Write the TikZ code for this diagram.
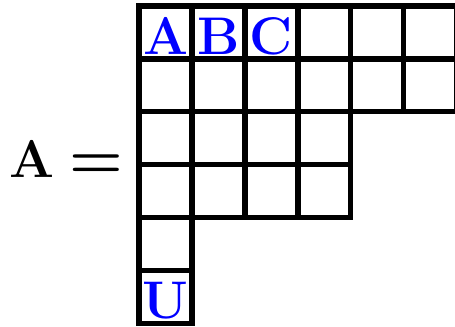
\documentclass[tikz,border=0pt]{standalone}
\usepackage{amsmath,amssymb,bm}
\usepackage{xcolor}
\usetikzlibrary{positioning}
\tikzset{
  box/.style={draw,line width=2.9pt,minimum size=1cm,inner sep=0pt,outer sep=0pt},
  tag/.style={font=\fontsize{28.5}{30}\selectfont\bfseries,text=blue,inner sep=0pt,anchor=base},
  lhs/.style={font=\fontsize{28.5}{30}\selectfont\bfseries,inner sep=0pt,anchor=base west},
  rel/.style={font=\fontsize{33}{34}\selectfont\bfseries,inner sep=0pt,anchor=base}
}
\begin{document}
\begin{tikzpicture}
  \useasboundingbox (-2.63,-.05) rectangle (5.97,6.113);
  % Young diagram: rows of 6, 6, 4, 4, 1, 1 boxes
  \foreach \r/\n in {1/6,2/6,3/4,4/4,5/1,6/1}
    \foreach \c in {1,...,\n}
      \node[box] (b\r\c) at (\c-.5,6.5-\r) {};
  \node[tag] (tA) at (.5,5.09) {A};
  \node[tag] (tB) at (1.5,5.09) {B};
  \node[tag] (tC) at (2.5,5.09) {C};
  \node[tag] (tU) at (.5,.1) {U};
  \node[lhs] (lhsA) at (-2.45,2.75) {A};
  \node[rel] (eq) at (-.815,2.73) {=};
\end{tikzpicture}
\end{document}
